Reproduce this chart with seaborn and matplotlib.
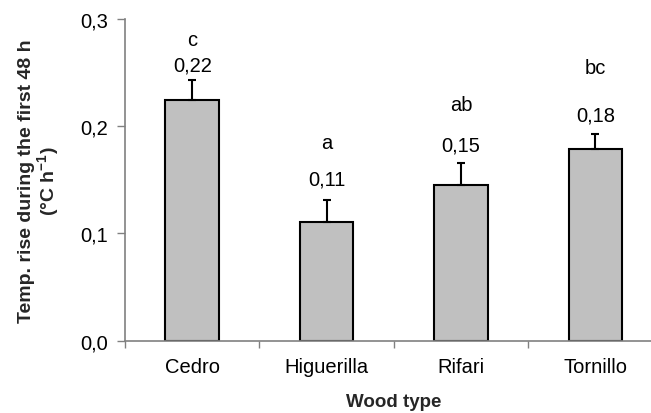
import matplotlib
matplotlib.use("Agg")
import matplotlib.pyplot as plt
import seaborn as sns
import pandas as pd
import numpy as np

# Data
wood_types = ["Cedro", "Higuerilla", "Rifari", "Tornillo"]
temp_rise = [0.224, 0.1106, 0.1455, 0.179]
std_err = [0.019, 0.021, 0.0205, 0.014]
value_labels = ["0,22", "0,11", "0,15", "0,18"]
group_letters = ["c", "a", "ab", "bc"]
yticks = [0.0, 0.1, 0.2, 0.3]
ytick_labels = ["0,0", "0,1", "0,2", "0,3"]

# Layout for annotations (pixel offsets above error bar top)
num_offset_px = [15, 21, 18, 19]
letter_offset_px = [41, 57, 58, 66]

sns.set_theme(style="white")
plt.rcParams["font.family"] = ["Liberation Sans", "DejaVu Sans"]

W, H = 651, 414
fig = plt.figure(figsize=(W / 100, H / 100), dpi=100)
ax = fig.add_axes([125 / W, 72.3 / H, 537.6 / W, 321.7 / H])

df = pd.DataFrame({"wood": wood_types, "rise": temp_rise})
sns.barplot(data=df, x="wood", y="rise", ax=ax, color="#C0C0C0",
            edgecolor="black", linewidth=1.5, width=0.4, errorbar=None,
            saturation=1)

x = np.arange(len(wood_types))
ax.errorbar(x, temp_rise, yerr=[np.zeros(len(std_err)), std_err], fmt="none",
            ecolor="black", elinewidth=1.5, capsize=3.2, capthick=1.5, zorder=3)

fs = 14.5
for xi, v, e, lab, let, no, lo in zip(x, temp_rise, std_err, value_labels,
                                      group_letters, num_offset_px, letter_offset_px):
    ax.annotate(lab, (xi, v + e), xytext=(0, no * 0.72), textcoords="offset points",
                ha="center", va="center", fontsize=fs, color="black")
    ax.annotate(let, (xi, v + e), xytext=(0, lo * 0.72), textcoords="offset points",
                ha="center", va="center", fontsize=fs, color="black")

ax.set_ylim(0, 0.3)
ax.set_xlim(-0.5, 3.5)
ax.set_yticks(yticks)
ax.set_yticklabels(ytick_labels)
ax.set_xticks(x)
ax.set_xticklabels(wood_types)
# boundary ticks on x-axis
ax.set_xticks(np.arange(-0.5, 4.0, 1.0), minor=True)
ax.tick_params(axis="x", which="major", length=0, pad=12, labelsize=fs, colors="black")
ax.tick_params(axis="x", which="minor", length=5, width=1, color="#808080", direction="out", bottom=True)
ax.tick_params(axis="y", which="major", length=6, width=1, color="#808080", direction="out",
               left=True, pad=6, labelsize=fs, labelcolor="black")

for s in ["top", "right"]:
    ax.spines[s].set_visible(False)
for s in ["left", "bottom"]:
    ax.spines[s].set_color("#808080")
    ax.spines[s].set_linewidth(1.2)

ax.set_xlabel("Wood type", fontsize=13.5, fontweight="bold", labelpad=12)
ax.set_ylabel("Temp. rise during the first 48 h\n(°C h$^{\\mathregular{-1}}$)", fontsize=14,
              fontweight="bold", labelpad=13, linespacing=1.05)

fig.savefig("out.png", dpi=100)
